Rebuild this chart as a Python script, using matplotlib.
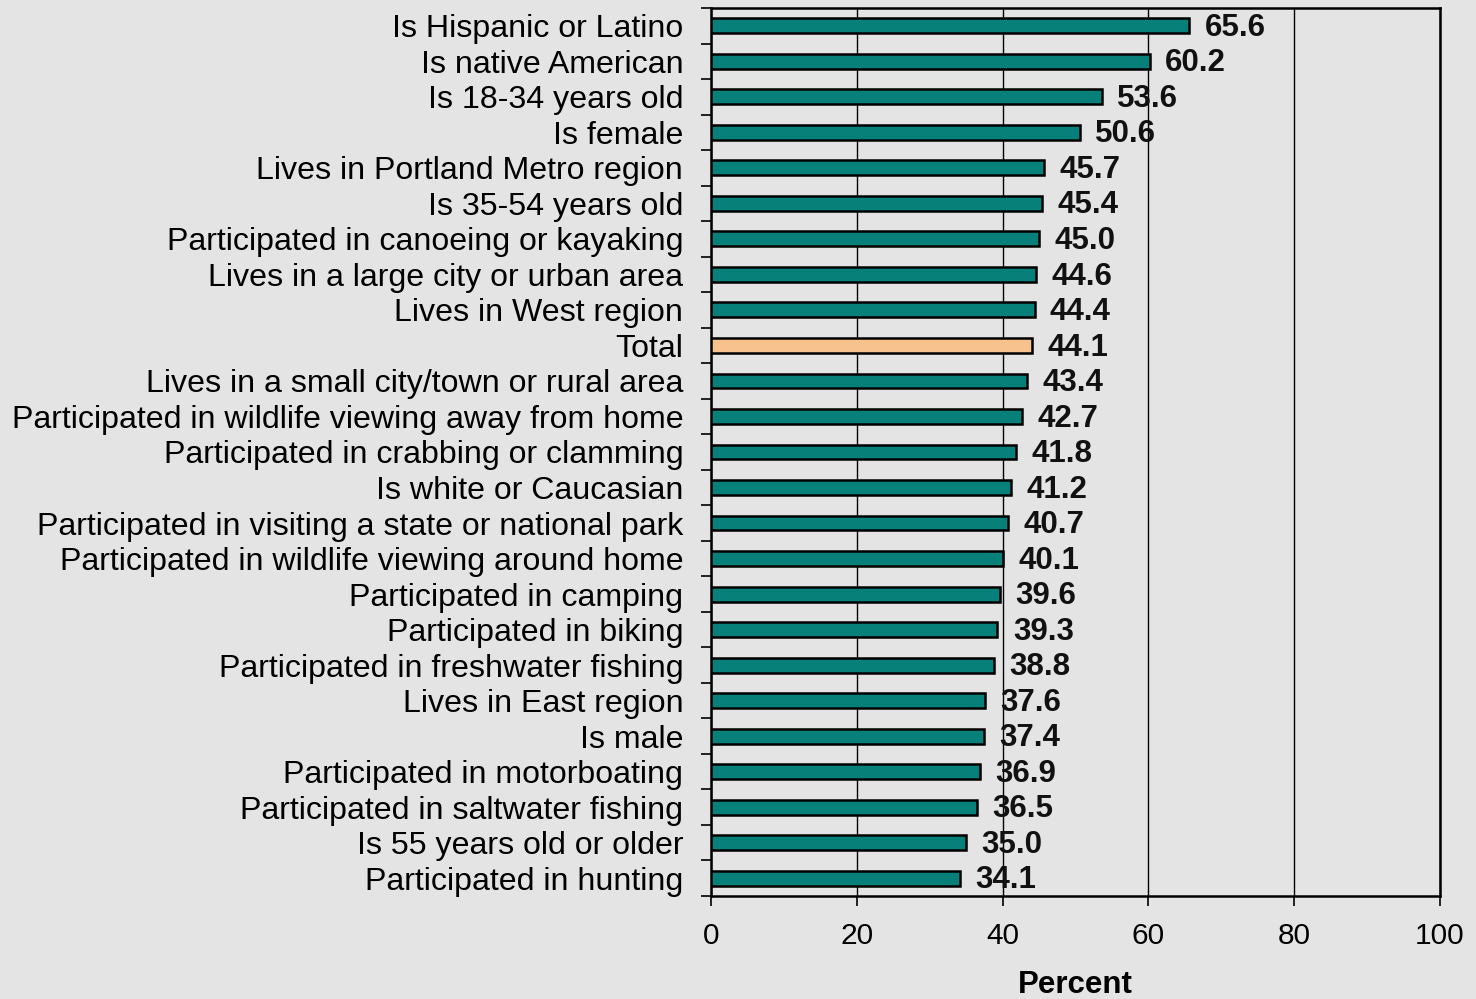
import matplotlib.pyplot as plt
import numpy as np

categories = [
    "Is Hispanic or Latino",
    "Is native American",
    "Is 18-34 years old",
    "Is female",
    "Lives in Portland Metro region",
    "Is 35-54 years old",
    "Participated in canoeing or kayaking",
    "Lives in a large city or urban area",
    "Lives in West region",
    "Total",
    "Lives in a small city/town or rural area",
    "Participated in wildlife viewing away from home",
    "Participated in crabbing or clamming",
    "Is white or Caucasian",
    "Participated in visiting a state or national park",
    "Participated in wildlife viewing around home",
    "Participated in camping",
    "Participated in biking",
    "Participated in freshwater fishing",
    "Lives in East region",
    "Is male",
    "Participated in motorboating",
    "Participated in saltwater fishing",
    "Is 55 years old or older",
    "Participated in hunting",
]
values = [65.6, 60.2, 53.6, 50.6, 45.7, 45.4, 45.0, 44.6, 44.4, 44.1, 43.4, 42.7,
          41.8, 41.2, 40.7, 40.1, 39.6, 39.3, 38.8, 37.6, 37.4, 36.9, 36.5, 35.0, 34.1]
x_ticks = [0, 20, 40, 60, 80, 100]

plt.rcParams['font.family'] = ['Liberation Sans', 'DejaVu Sans']

bg = '#e4e4e4'
fig = plt.figure(figsize=(14.76, 9.99), dpi=100, facecolor=bg)
ax = fig.add_axes([711 / 1476, 1 - 896 / 999, (1440 - 711) / 1476, (896 - 8) / 999])
ax.set_facecolor(bg)

n = len(categories)
y = np.arange(n)
colors = ['#f7c28e' if c == 'Total' else '#07807a' for c in categories]
ax.barh(y, values, height=0.42, color=colors, edgecolor='black', linewidth=1.8, zorder=3)

for yi, v in zip(y, values):
    ax.text(v + 2.1, yi + 0.06, f"{v:.1f}", va='center', ha='left',
            fontsize=22.5, fontweight='bold', color='#111111', zorder=4)

ax.set_xlim(0, 100)
ax.set_ylim(n - 0.5, -0.5)
ax.set_xticks(x_ticks)
ax.set_xticklabels([str(t) for t in x_ticks], fontsize=21.5)
ax.xaxis.grid(True, color='black', linewidth=1.0, zorder=1)
ax.set_axisbelow(True)

ax.set_yticks(y)
ax.set_yticklabels(categories, fontsize=23.1)
ax.tick_params(axis='y', length=0, pad=20)
ax.set_yticks(np.arange(-0.5, n, 1.0), minor=True)
ax.tick_params(axis='y', which='minor', length=7, width=1.2, direction='out')
ax.tick_params(axis='x', length=7, width=1.2, direction='out', pad=12)

for s in ax.spines.values():
    s.set_linewidth(1.8)
    s.set_color('black')

ax.set_xlabel('Percent', fontsize=22.5, fontweight='bold', labelpad=14)

fig.savefig('out.png', dpi=100, facecolor=bg)
